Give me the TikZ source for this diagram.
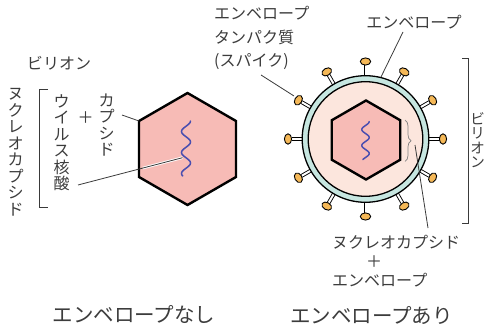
\documentclass[tikz,border=0pt]{standalone}
\usepackage{fontspec}
\newfontfamily\jp{Noto Sans CJK JP}
\usetikzlibrary{calc,decorations.pathreplacing}
\definecolor{txt}{HTML}{3C3C3C}
\definecolor{lead}{HTML}{3A3A3A}
\definecolor{hexpink}{HTML}{F7BBB6}
\definecolor{peach}{HTML}{FCE6DD}
\definecolor{ringteal}{HTML}{C6E6E0}
\definecolor{capor}{HTML}{F5B857}
\definecolor{rna}{HTML}{4A4EB0}
\begin{document}
\begin{tikzpicture}[x=1pt,y=1pt,
  lbl/.style={font=\jp\fontsize{16}{16}\selectfont, text=txt, inner sep=0},
  vlbl/.style={font=\jp\fontsize{16}{16.5}\selectfont, text=txt, inner sep=0, align=center},
  big/.style={font=\jp\fontsize{20.5}{20.5}\selectfont, text=txt, inner sep=0},
  leader/.style={draw=lead, line width=0.8},
  bracket/.style={draw=lead, line width=0.9},
  hexa/.style={draw=black, line width=2.4, fill=hexpink, line join=miter},
  rnastyle/.style={draw=rna, line width=1.5, line cap=round},
  stick/.style={draw=black, line width=0.9, double=white, double distance=2.0},
  capst/.style={draw=black, line width=0.9, fill=capor},
  shell/.style={draw=black, line width=1.3}]
\useasboundingbox (0,0) rectangle (492,327);

% ---------- naked virion (left) ----------
\coordinate (hl) at (187.5,178);
\draw[hexa] ($(hl)+(90:56)$) -- ($(hl)+(150:56)$) -- ($(hl)+(210:56)$)
  -- ($(hl)+(270:56)$) -- ($(hl)+(330:56)$) -- ($(hl)+(30:56)$) -- cycle;
\coordinate (hlv) at ($(hl)+(150:56)$);

\node[lbl] (virL) at (59,264) {ビリオン};
\node[vlbl] (ncL) at (15.5,175) {ヌ\\ク\\レ\\オ\\カ\\プ\\シ\\ド};
\node[vlbl] (naL) at (61.5,184.5) {ウ\\イ\\ル\\ス\\核\\酸};
\node[lbl] (plusL) at (85.5,209) {＋};
\node[vlbl] (capsL) at (106.5,202) {カ\\プ\\シ\\ド};
\draw[bracket] (48,238) -- (39.3,238) -- (39.3,120) -- (48,120);

\coordinate (capsA) at (122,212);
\draw[leader] (capsA) -- (hlv);

\coordinate (naA) at (78,142);
\coordinate (naB) at (182.5,169.3);
\draw[white, line width=2.6] ($(naA)!0.62!(naB)$) -- (naB);
\draw[leader] (naA) -- (naB);

\draw[rnastyle] plot[domain=0:55, samples=90, smooth] ({186+4.5*cos(\x/21*360)}, {206-\x});

% ---------- enveloped virion (right) ----------
\coordinate (C) at (365.5,188);
\foreach \a in {0,30,...,330} {
  \draw[stick] ($(C)+(\a:61)$) -- ($(C)+(\a:74)$);
  \coordinate (k\a) at ($(C)+(\a:77.5)$);
  \draw[capst, rotate around={\a:(k\a)}] (k\a) ellipse [x radius=3.6, y radius=5.2];
}
\draw[shell, fill=ringteal] (C) circle[radius=63.3];
\draw[shell, fill=peach] (C) circle[radius=57.3];

\coordinate (hr) at (366,187);
\draw[hexa] ($(hr)+(90:39.5)$) -- ($(hr)+(150:39.5)$) -- ($(hr)+(210:39.5)$)
  -- ($(hr)+(270:39.5)$) -- ($(hr)+(330:39.5)$) -- ($(hr)+(30:39.5)$) -- cycle;
\draw[rnastyle] plot[domain=0:38, samples=80, smooth] ({365.5+3.7*cos(\x/16*360)}, {205.5-\x});

\draw[draw=gray, line width=0.7, decorate, decoration={brace, amplitude=6pt}] (405,207) -- (405,165.5);

% labels of the enveloped virion
\node[lbl, anchor=west, align=left, font=\jp\fontsize{16}{23.5}\selectfont] (spk) at (214,289)
  {エンベロープ\\タンパク質\\(スパイク)};
\coordinate (spkA) at (261,252);
\coordinate (spkB) at (294,231);
\draw[leader] (spkA) -- (spkB);

\node[lbl] (envT) at (414,305.3) {エンベロープ};
\coordinate (envA) at (403,295);
\coordinate (envB) at ($(C)+(76:63.8)$);
\draw[leader] (envA) -- (envB);

\coordinate (brA) at (415,182);
\coordinate (brB) at (428,99);
\draw[leader] (brA) -- (brB);

\node[lbl, anchor=west] (ncR) at (332,85) {ヌクレオカプシド};
\node[lbl] (plusR) at (374,65) {＋};
\node[lbl, anchor=west] (envR) at (332,47) {エンベロープ};

\draw[bracket] (462,269) -- (468.3,269) -- (468.3,104) -- (462,104);
\node[vlbl, font=\jp\fontsize{14.5}{14.5}\selectfont] (virR) at (477.7,187) {ビ\\リ\\オ\\ン};

% ---------- captions ----------
\node[big] (noenv) at (134,12) {エンベロープなし};
\node[big] (withenv) at (371.5,12) {エンベロープあり};
\end{tikzpicture}
\end{document}
